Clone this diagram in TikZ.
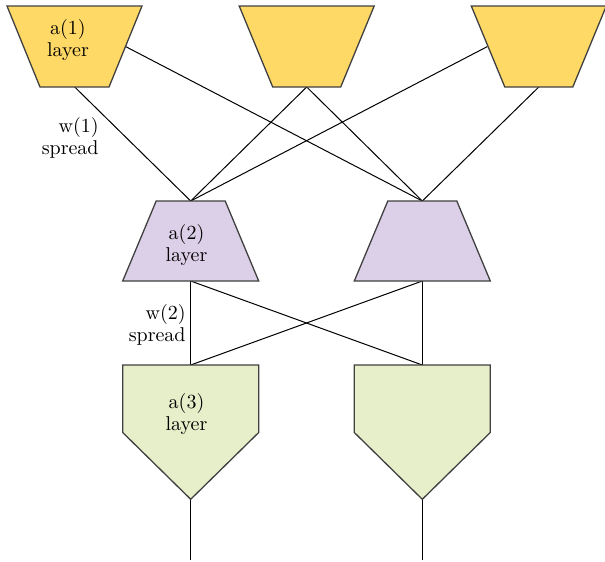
\documentclass[tikz,border=0pt]{standalone}
\definecolor{layerone}{HTML}{FFD966}
\definecolor{layertwo}{HTML}{DCD0E8}
\definecolor{layerthree}{HTML}{E6EFCA}
\tikzstyle{wire}=[black,line width=0.5pt]
\tikzstyle{cell}=[draw=black!75,line width=0.65pt,line join=miter]
\tikzstyle{lbl}=[inner sep=0pt,font=\fontsize{10}{11}\selectfont]

\begin{document}
\begin{tikzpicture}[x=0.5pt,y=-0.5pt]
	\useasboundingbox (0,0) rectangle (605,562);
	
	% connection points
	\coordinate (t1s) at (74.7,87);
	\coordinate (t1e) at (125.5,46.5);
	\coordinate (t2s) at (306.7,87);
	\coordinate (t3w) at (487.5,46.5);
	\coordinate (t3s) at (538.8,87);
	\coordinate (m1n) at (190.7,201);
	\coordinate (m2n) at (422.3,201);
	\coordinate (m1s) at (190.7,281);
	\coordinate (m2s) at (422.3,281);
	\coordinate (b1n) at (190.7,365);
	\coordinate (b2n) at (422.3,365);
	\coordinate (b1s) at (190.7,499.3);
	\coordinate (b2s) at (422.3,499.3);
	\coordinate (o1) at (190.7,560);
	\coordinate (o2) at (422.3,560);
	
	\draw[wire] (t1s) -- (m1n);
	\draw[wire] (t1e) -- (m2n);
	\draw[wire] (t2s) -- (m1n);
	\draw[wire] (t2s) -- (m2n);
	\draw[wire] (t3w) -- (m1n);
	\draw[wire] (t3s) -- (m2n);
	
	\draw[wire] (m1s) -- (b1n);
	\draw[wire] (m1s) -- (b2n);
	\draw[wire] (m2s) -- (b1n);
	\draw[wire] (m2s) -- (b2n);
	
	\draw[wire] (b1s) -- (o1);
	\draw[wire] (b2s) -- (o2);
	
	% first layer
	\draw[cell,fill=layerone] (7,6) -- (142,6) -- (109,87) -- (40,87) -- cycle;
	\draw[cell,fill=layerone] (239.2,6) -- (374.2,6) -- (340.7,87) -- (272.7,87) -- cycle;
	\draw[cell,fill=layerone] (471.3,6) -- (606.3,6) -- (572.8,87) -- (504.8,87) -- cycle;
	
	% second layer
	\draw[cell,fill=layertwo] (156.2,201) -- (225.2,201) -- (258.7,281) -- (122.7,281) -- cycle;
	\draw[cell,fill=layertwo] (387.8,201) -- (456.8,201) -- (490.3,281) -- (354.3,281) -- cycle;
	
	% third layer
	\draw[cell,fill=layerthree] (122.7,365) -- (258.7,365) -- (258.7,432.5) -- (b1s) -- (122.7,432.5) -- cycle;
	\draw[cell,fill=layerthree] (354.3,365) -- (490.3,365) -- (490.3,432.5) -- (b2s) -- (354.3,432.5) -- cycle;
	
	\node[lbl,align=center] (a1) at (68,40) {a(1)\\layer};
	\node[lbl,align=center] (a2) at (186.5,245) {a(2)\\layer};
	\node[lbl,align=center] (a3) at (186.5,414) {a(3)\\layer};
	\node[lbl,align=right,anchor=east] (w1) at (99,138) {w(1)\\spread};
	\node[lbl,align=right,anchor=east] (w2) at (186,325) {w(2)\\spread};
\end{tikzpicture}
\end{document}
